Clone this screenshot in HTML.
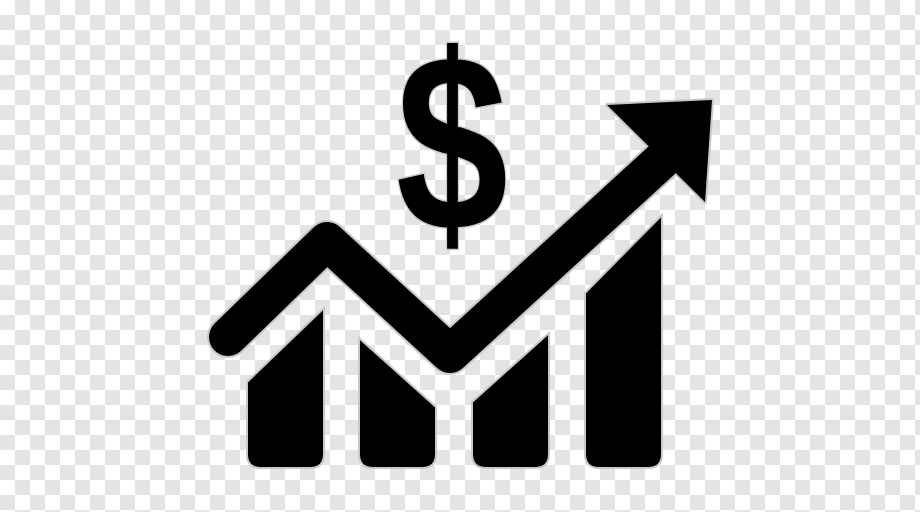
<!DOCTYPE html>
<html><head><meta charset="utf-8"><style>
html,body{margin:0;padding:0;}
body{width:920px;height:512px;overflow:hidden;
background-color:#fff;
background-image:linear-gradient(45deg,#e4e4e4 25%,transparent 25%,transparent 75%,#e4e4e4 75%),linear-gradient(45deg,#e4e4e4 25%,transparent 25%,transparent 75%,#e4e4e4 75%);
background-size:30px 30px;background-position:0 0,15px 15px;}
svg{display:block}
</style></head><body>
<svg width="920" height="512" viewBox="0 0 920 512">
<g id="bars"></g>
<polyline points="228,337 327,241 450,354 662,160" fill="none" stroke="#c8c8c8" stroke-width="42" stroke-linecap="round" stroke-linejoin="round"/>
<polygon points="607,105 712,100 705,202" fill="#000" stroke="#c8c8c8" stroke-width="4" stroke-linejoin="round"/>
<polyline points="228,337 327,241 450,354 662,160" fill="none" stroke="#000" stroke-width="38" stroke-linecap="round" stroke-linejoin="round"/>
<polygon points="607,105 712,100 705,202" fill="#000" stroke="none"/>
<g transform="translate(452,0) scale(0.8,1) translate(-452,0)">
<text x="452" y="230" text-anchor="middle" font-family="Liberation Sans, sans-serif" font-weight="bold" font-size="252" fill="#000" stroke="#c8c8c8" stroke-width="3" paint-order="stroke">$</text>
</g>
</svg>
<script>
const barNames=['bar-1','bar-2','bar-3','bar-4'];
const barLeftTop=[382,338,402,293];
const barRightTop=[308,407,333,215];
const barX=[247,359,472,585];
const barW=77, base=468, r=14;
const g=document.getElementById('bars');
for(let i=0;i<barNames.length;i++){
  const x0=barX[i],x1=x0+barW;
  const d=`M${x0},${barLeftTop[i]} L${x1},${barRightTop[i]} L${x1},${base-r} Q${x1},${base} ${x1-r},${base} L${x0+r},${base} Q${x0},${base} ${x0},${base-r} Z`;
  const p=document.createElementNS('http://www.w3.org/2000/svg','path');
  p.setAttribute('d',d);
  p.setAttribute('fill','#000');
  p.setAttribute('stroke','#c8c8c8');
  p.setAttribute('stroke-width','2');
  
  
  g.appendChild(p);
}
</script>
</body></html>
